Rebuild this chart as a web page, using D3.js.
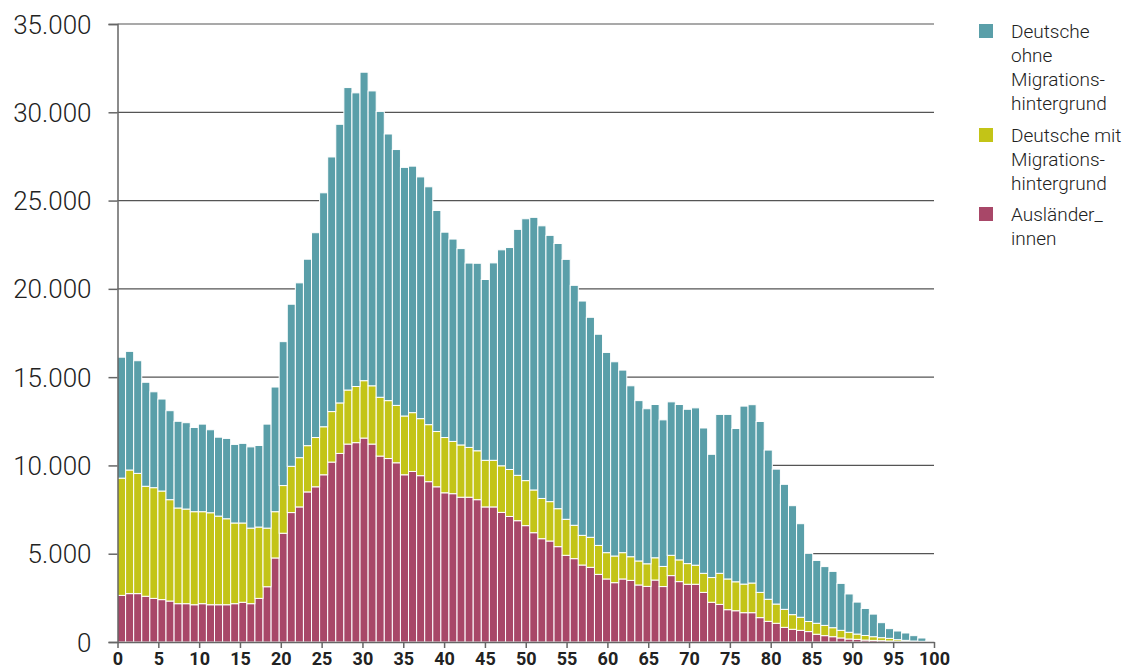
<!DOCTYPE html>
<html>
<head>
<meta charset="utf-8">
<script src="https://cdn.jsdelivr.net/npm/d3@7"></script>
<style>
  body { margin: 0; background: #fff; }
  svg text { font-family: "Roboto", "Liberation Sans", sans-serif; }
  svg text.light { font-weight: 300; }
</style>
</head>
<body>
<div id="chart"></div>
<script>
// ages 0..100
const ages = d3.range(0, 101);

const auslaender = [2640, 2740, 2740, 2590, 2470, 2400, 2320, 2170, 2170, 2110,
  2170, 2110, 2110, 2110, 2170, 2250, 2170, 2470, 3130, 4760,
  6160, 7330, 7650, 8500, 8790, 9470, 10190, 10680, 11210, 11290,
  11550, 11210, 10530, 10390, 10150, 9470, 9660, 9420, 9080, 8790,
  8450, 8400, 8200, 8200, 8060, 7650, 7650, 7340, 7110, 6870,
  6590, 6190, 5850, 5720, 5400, 4910, 4720, 4360, 4230, 3830,
  3570, 3360, 3570, 3490, 3230, 3150, 3510, 3140, 3760, 3420,
  3270, 3270, 2810, 2250, 2130, 1830, 1770, 1660, 1660, 1380,
  1170, 1060, 830, 720, 660, 590, 440, 360, 300, 230,
  170, 150, 110, 90, 75, 57, 38, 30, 20, 15, 8];

const mitMigration = [6640, 7000, 6810, 6230, 6270, 6150, 5740, 5420, 5360, 5270,
  5210, 5210, 5020, 4870, 4570, 4490, 4280, 4040, 3320, 2620,
  2700, 2620, 2790, 2620, 2790, 2720, 2860, 2860, 3060, 3180,
  3250, 3300, 3330, 3280, 3250, 3330, 3330, 3230, 3230, 3130,
  3130, 2960, 2960, 2820, 2770, 2640, 2640, 2640, 2660, 2570,
  2550, 2420, 2280, 2230, 2150, 2040, 1890, 1680, 1700, 1640,
  1490, 1510, 1490, 1340, 1360, 1280, 1260, 1140, 1150, 1230,
  1170, 1080, 1080, 1400, 1760, 1740, 1640, 1620, 1680, 1430,
  1250, 1090, 1020, 830, 740, 570, 620, 580, 510, 430,
  380, 300, 260, 210, 170, 150, 94, 64, 37, 23, 12];

const ohneMigration = [6850, 6720, 6380, 5890, 5430, 5210, 5040, 4910, 4890, 4770,
  4960, 4700, 4470, 4550, 4450, 4510, 4600, 4620, 5890, 7060,
  8150, 9180, 9900, 10560, 11600, 13250, 14420, 15780, 17130, 16630,
  17470, 16700, 16190, 15100, 14490, 14080, 13960, 13690, 13470, 12520,
  11630, 11460, 11120, 10440, 10620, 10240, 11180, 12230, 12570, 13930,
  14830, 15440, 15440, 15080, 15020, 14720, 13590, 13270, 12460, 11960,
  11340, 11000, 10340, 9680, 9080, 8780, 8680, 8300, 8690, 8800,
  8740, 8910, 8230, 6980, 9000, 9320, 8680, 10080, 10100, 9680,
  8450, 7640, 7080, 6170, 5300, 3860, 3560, 3330, 3190, 2660,
  2170, 1810, 1530, 1280, 850, 550, 490, 416, 302, 188, 40];

const seriesKeys = ["aus", "mit", "ohne"];
const seriesColors = { aus: "#a84768", mit: "#c3c417", ohne: "#5a9fa9" };

const legendItems = [
  { key: "ohne", lines: ["Deutsche", "ohne", "Migrations-", "hintergrund"] },
  { key: "mit", lines: ["Deutsche mit", "Migrations-", "hintergrund"] },
  { key: "aus", lines: ["Ausländer_", "innen"] }
];

const yTicks = [0, 5000, 10000, 15000, 20000, 25000, 30000, 35000];
const xTicks = d3.range(0, 101, 5);

const width = 1131, height = 671;
const margin = { top: 24, right: 197, bottom: 29, left: 117.5 };
const innerW = width - margin.left - margin.right;
const innerH = height - margin.top - margin.bottom;

const svg = d3.select("#chart")
  .append("svg")
  .attr("width", width)
  .attr("height", height);

const g = svg.append("g")
  .attr("transform", `translate(${margin.left},${margin.top})`);

const rows = ages.map((a, i) => ({
  age: a, aus: auslaender[i], mit: mitMigration[i], ohne: ohneMigration[i]
}));
const stacked = d3.stack().keys(seriesKeys)(rows);

const xBand = d3.scaleBand().domain(ages).range([0, innerW]).padding(0);
const xLin = d3.scaleLinear().domain([0, 100]).range([0, innerW]);
const y = d3.scaleLinear().domain([0, 35000]).range([innerH, 0]);

// gridlines behind bars
g.append("g")
  .selectAll("line")
  .data(yTicks.slice(1))
  .join("line")
  .attr("x1", 0)
  .attr("x2", innerW)
  .attr("y1", d => y(d))
  .attr("y2", d => y(d))
  .attr("stroke", "#555")
  .attr("stroke-width", 1.2);

// bars
g.append("g")
  .selectAll("g")
  .data(stacked)
  .join("g")
  .attr("fill", d => seriesColors[d.key])
  .selectAll("rect")
  .data(d => d)
  .join("rect")
  .attr("x", d => xBand(d.data.age))
  .attr("y", d => y(d[1]))
  .attr("width", xBand.bandwidth())
  .attr("height", d => Math.max(0, y(d[0]) - y(d[1])))
  .attr("stroke", "#fff")
  .attr("stroke-width", 1);

// y axis
const yAxis = g.append("g")
  .call(d3.axisLeft(y).tickValues(yTicks).tickSize(9).tickPadding(17)
    .tickFormat(d => d3.format(",")(d).replace(/,/g, ".")));
yAxis.select(".domain").attr("stroke", "#666").attr("stroke-width", 1.5);
yAxis.selectAll(".tick line").attr("stroke", "#666").attr("stroke-width", 1.5);
yAxis.selectAll("text")
  .attr("class", "light")
  .style("font-size", "26px")
  .attr("fill", "#222")
  .attr("dy", "0.35em");

// x axis
const xAxis = g.append("g")
  .attr("transform", `translate(0,${innerH})`)
  .call(d3.axisBottom(xLin).tickValues(xTicks).tickSize(6).tickPadding(4)
    .tickSizeOuter(0));
xAxis.select(".domain").attr("stroke", "#666").attr("stroke-width", 1.5);
xAxis.selectAll(".tick line").attr("stroke", "#666").attr("stroke-width", 1.5);
xAxis.selectAll("text")
  .style("font-size", "18px")
  .style("font-weight", 700)
  .attr("fill", "#222");

// legend
const legend = svg.append("g").attr("transform", "translate(979,0)");
const legendTops = [24, 128, 207];
legendItems.forEach((item, i) => {
  const lg = legend.append("g").attr("transform", `translate(0,${legendTops[i]})`);
  lg.append("rect")
    .attr("width", 14)
    .attr("height", 14)
    .attr("fill", seriesColors[item.key]);
  lg.append("text")
    .attr("class", "light")
    .attr("y", 14)
    .style("font-size", "19px")
    .attr("fill", "#222")
    .selectAll("tspan")
    .data(item.lines)
    .join("tspan")
    .attr("x", 32)
    .attr("dy", (d, j) => j === 0 ? 0 : 24)
    .text(d => d);
});
</script>
</body>
</html>
